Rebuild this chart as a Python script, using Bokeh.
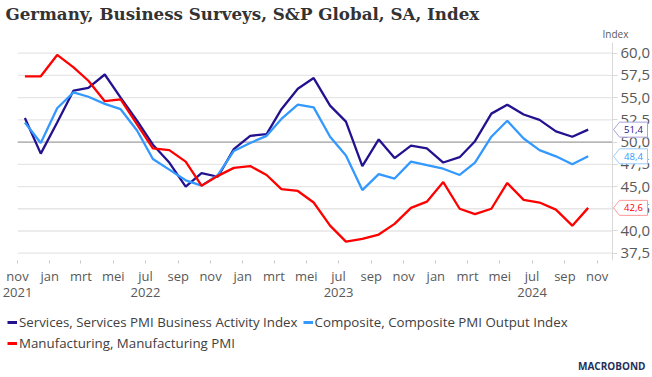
import pandas as pd
from bokeh.plotting import figure
from bokeh.layouts import column
from bokeh.core.properties import value
from bokeh.models import (Range1d, LinearAxis, FixedTicker, CustomJSTickFormatter,
                          Label, Legend, LegendItem, ColumnDataSource, Title)
from bokeh.embed import file_html
from bokeh.resources import INLINE

# ---------------- data ----------------
title_text = "Germany, Business Surveys, S&P Global, SA, Index"
first_month = "2021-11-01"
last_month = "2024-10-01"
services = [52.7, 48.7, 52.2, 55.8, 56.1, 57.6, 55.0, 52.4, 49.7, 47.7, 45.0, 46.5,
            46.1, 49.2, 50.7, 50.9, 53.7, 56.0, 57.2, 54.1, 52.3, 47.3, 50.3, 48.2,
            49.6, 49.3, 47.7, 48.3, 50.1, 53.2, 54.2, 53.1, 52.5, 51.2, 50.6, 51.4]
composite = [52.2, 49.9, 53.8, 55.6, 55.1, 54.3, 53.7, 51.3, 48.1, 46.9, 45.7, 45.1,
             46.3, 49.0, 49.9, 50.7, 52.6, 54.2, 53.9, 50.6, 48.5, 44.6, 46.4, 45.9,
             47.8, 47.4, 47.0, 46.3, 47.7, 50.6, 52.4, 50.4, 49.1, 48.4, 47.5, 48.4]
manufacturing = [57.4, 57.4, 59.8, 58.4, 56.9, 54.6, 54.8, 52.0, 49.3, 49.1, 47.8, 45.1,
                 46.2, 47.1, 47.3, 46.3, 44.7, 44.5, 43.2, 40.6, 38.8, 39.1, 39.6, 40.8,
                 42.6, 43.3, 45.5, 42.5, 41.9, 42.5, 45.4, 43.5, 43.2, 42.4, 40.6, 42.6]
series_names = ["Services, Services PMI Business Activity Index",
                "Composite, Composite PMI Output Index",
                "Manufacturing, Manufacturing PMI"]
series_colors = ["#23128f", "#3399ff", "#ff0000"]
box_border_colors = ["#aaa2dc", "#99ccff", "#ff9a9a"]
month_names = ["jan", "feb", "mrt", "apr", "mei", "jun", "jul", "aug", "sep", "okt", "nov", "dec"]
y_ticks = [37.5, 40.0, 42.5, 45.0, 47.5, 50.0, 52.5, 55.0, 57.5, 60.0]
x_tick_months = ["2021-11-01", "2022-01-01", "2022-03-01", "2022-05-01", "2022-07-01",
                 "2022-09-01", "2022-11-01", "2023-01-01", "2023-03-01", "2023-05-01",
                 "2023-07-01", "2023-09-01", "2023-11-01", "2024-01-01", "2024-03-01",
                 "2024-05-01", "2024-07-01", "2024-09-01", "2024-11-01"]
year_start_ticks = ["2022-01-01", "2023-01-01", "2024-01-01"]
year_label_dates = ["2021-11-01", "2022-07-01", "2023-07-01", "2024-07-01"]
reference_level = 50.0
axis_unit = "Index"
logo_text = "MACROBOND"

# ---------------- geometry ----------------
def ms(s):
    return pd.Timestamp(s).value / 1e6

W, HA, HB = 650, 304, 73
LEFT, TOP, BOTTOM = 17, 42, 44
FW = W - LEFT                 # frame spans to right edge; y-axis drawn at fixed location
AXIS_PX = 612 - LEFT          # pixel position of y axis inside frame
X0 = ms("2021-11-01")
XA = ms("2024-11-30")         # y axis location
MSPP = (XA - X0) / AXIS_PX    # ms per pixel
X1 = X0 + FW * MSPP
Y0, Y1 = 36.68, 61.2
UPP = (Y1 - Y0) / (HA - TOP - BOTTOM)   # data units per pixel

dates = pd.date_range(first_month, last_month, freq="MS") + pd.Timedelta(days=14)
src = ColumnDataSource(dict(date=dates, s=services, c=composite, m=manufacturing))

FONT = "Open Sans"
TXT = "#595959"

p = figure(width=W, height=HA, x_axis_type="datetime",
           output_backend="svg", toolbar_location=None,
           x_range=Range1d(X0, X1), y_range=Range1d(Y0, Y1),
           y_axis_location="right", min_border_left=LEFT, min_border_right=0,
           min_border_top=TOP, min_border_bottom=BOTTOM)
p.frame_align = False
p.outline_line_color = None
p.background_fill_color = "white"
p.border_fill_color = "white"
p.xgrid.visible = False
p.ygrid.visible = False

# horizontal grid lines (stop at the y axis) and 50-line
n = len(y_ticks)
p.segment(x0=[X0] * n, y0=y_ticks, x1=[XA] * n, y1=y_ticks, line_color="#e6e6e6", line_width=1.3)
p.segment(x0=[X0], y0=[reference_level], x1=[XA], y1=[reference_level],
          line_color="#a6a6a6", line_width=1.2)

# y axis at fixed location
ya = p.yaxis[0]
ya.fixed_location = XA
ya.ticker = FixedTicker(ticks=y_ticks)
ya.formatter = CustomJSTickFormatter(code="return tick.toFixed(1).replace('.', ',');")
ya.major_label_text_font = FONT
ya.major_label_text_font_size = "15px"
ya.major_label_text_color = TXT
ya.axis_line_color = "#d9d9d9"
ya.major_tick_line_color = "#d9d9d9"
ya.major_tick_out = 5
ya.major_tick_in = 0
ya.minor_tick_line_color = None
ya.major_label_standoff = 3

# x axis months
xa = p.xaxis[0]
xa.ticker = FixedTicker(ticks=[ms(t) for t in x_tick_months])
xa.formatter = CustomJSTickFormatter(args=dict(names=month_names),
                                     code="return names[new Date(tick).getUTCMonth()];")
xa.axis_line_color = None
xa.major_tick_line_color = "#c8c8c8"
xa.major_tick_out = 3
xa.major_tick_in = 0
xa.minor_tick_line_color = None
xa.major_label_standoff = 3
xa.major_label_text_font = FONT
xa.major_label_text_font_size = "13px"
xa.major_label_text_color = TXT

# longer ticks at year starts
jt = LinearAxis(ticker=FixedTicker(ticks=[ms(t) for t in year_start_ticks]),
                formatter=CustomJSTickFormatter(code="return '';"),
                fixed_location=Y0, axis_line_color=None,
                major_tick_line_color="#c8c8c8", major_tick_out=6, major_tick_in=0,
                minor_tick_line_color=None)
p.add_layout(jt, "below")

# x axis years
yr = LinearAxis(ticker=FixedTicker(ticks=[ms(t) for t in year_label_dates]),
                formatter=CustomJSTickFormatter(code="return String(new Date(tick).getUTCFullYear());"),
                axis_line_color=None, major_tick_line_color=None, minor_tick_line_color=None,
                major_tick_out=0, major_tick_in=0, major_label_standoff=0,
                major_label_text_font=FONT, major_label_text_font_size="13px",
                major_label_text_color=TXT)
p.add_layout(yr, "below")

for col, color in zip(["s", "c", "m"], series_colors):
    p.line("date", col, source=src, line_color=color, line_width=2.3)

# titles
p.add_layout(Title(text=axis_unit, align="left", offset=602 - LEFT, standoff=3,
                   text_font=FONT, text_font_size="10px", text_font_style="normal",
                   text_color=TXT), "above")
p.title = Title(text=title_text, align="left", offset=5 - LEFT, standoff=0,
                text_font="DejaVu Serif", text_font_style="bold", text_font_size="16.7px",
                text_color="#333333")

# last-value callouts (inside frame, right of the axis), drawn above the axis labels
def xp(px):
    return XA + (px - 612) * MSPP

half = 7.5 * UPP
last_vals = [services[-1], composite[-1], manufacturing[-1]]
box_src = ColumnDataSource(dict(
    xs=[[xp(613), xp(619), xp(647), xp(647), xp(619)] for _ in last_vals],
    ys=[[v, v + half, v + half, v - half, v - half] for v in last_vals],
    line=box_border_colors))
p.patches("xs", "ys", source=box_src, fill_color="white", line_color="line",
          line_width=1, level="overlay")
txt_src = ColumnDataSource(dict(x=[xp(633)] * 3, y=last_vals,
                                t=[f"{v:.1f}".replace(".", ",") for v in last_vals],
                                c=series_colors))
p.text("x", "y", text="t", source=txt_src, text_color="c", text_font=value(FONT),
       text_font_size="9.5px", text_align="center", text_baseline="middle", level="overlay")

# ---------------- legend strip ----------------
q = figure(width=W, height=HB, output_backend="svg", toolbar_location=None,
           x_range=Range1d(0, W), y_range=Range1d(0, HB),
           x_axis_location=None, y_axis_location=None,
           min_border_left=0, min_border_right=0, min_border_top=0, min_border_bottom=0)
q.frame_align = False
q.outline_line_color = None
q.xgrid.visible = False
q.ygrid.visible = False
q.background_fill_color = "white"
q.border_fill_color = "white"

# legend keys: line renderers placed outside the visible range (only their legend glyphs show)
keys = [q.line(x=[-50, -40], y=[-50, -50], line_color=c, line_width=3) for c in series_colors]

def make_legend(idx, loc):
    return Legend(items=[LegendItem(label=series_names[i], renderers=[keys[i]]) for i in idx],
                  location=loc, orientation="horizontal",
                  border_line_color=None, background_fill_alpha=0, padding=0, margin=0,
                  spacing=5, glyph_width=10, glyph_height=16, label_height=16, label_standoff=2,
                  label_text_font=FONT, label_text_font_size="13.3px", label_text_color="#404040")

q.add_layout(make_legend([0, 1], (7, HB - (323 - HA) - 8)))
q.add_layout(make_legend([2], (7, HB - (344 - HA) - 8)))
q.add_layout(Label(x=645, y=HB - (365 - HA), text=logo_text, text_font=FONT,
                   text_font_size="10px", text_font_style="bold", text_color="#1f2f5a",
                   text_align="right", text_baseline="middle"))

open("out.html", "w").write(file_html(column(p, q), INLINE))
